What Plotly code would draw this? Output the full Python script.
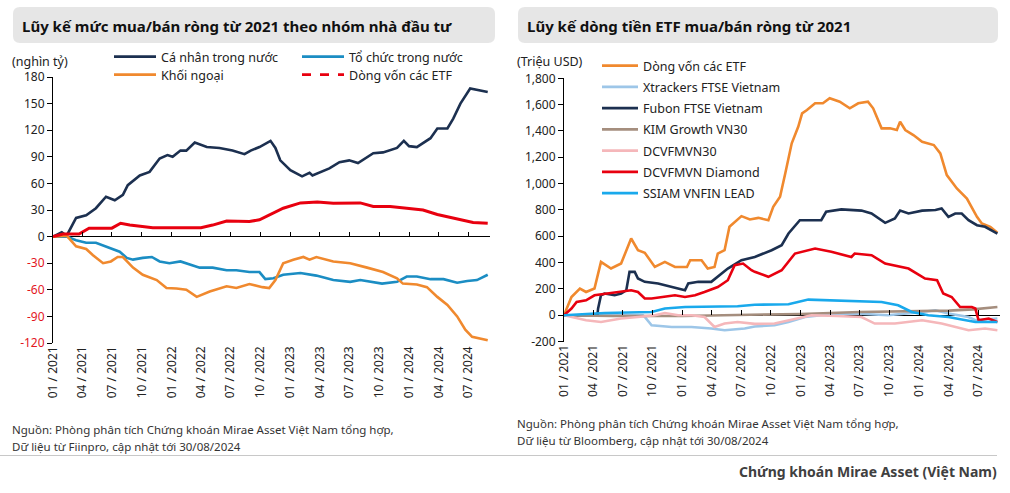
import plotly.graph_objects as go

# ---------------- Left chart data (nghìn tỷ VND) ----------------
ca_nhan_dates = ["2021-01-01", "2021-01-28", "2021-02-12", "2021-03-13", "2021-04-13", "2021-05-13",
                 "2021-06-13", "2021-07-10", "2021-08-04", "2021-08-19", "2021-09-25", "2021-10-25",
                 "2021-11-25", "2021-12-19", "2022-01-04", "2022-01-28", "2022-02-15", "2022-03-13",
                 "2022-04-19", "2022-05-28", "2022-07-07", "2022-08-13", "2022-09-01", "2022-09-28",
                 "2022-11-01", "2022-11-16", "2022-12-01", "2023-01-01", "2023-02-06", "2023-03-01",
                 "2023-03-10", "2023-05-01", "2023-06-01", "2023-07-01", "2023-07-28", "2023-08-19",
                 "2023-09-13", "2023-10-13", "2023-11-25", "2023-12-16", "2024-01-01", "2024-01-25",
                 "2024-03-07", "2024-03-28", "2024-04-28", "2024-05-16", "2024-06-07", "2024-07-07",
                 "2024-08-01", "2024-08-30"]
ca_nhan_vals = [0, 5, 1, 21, 24, 32, 45, 41, 47, 58, 69, 73, 88, 92, 90, 97, 97, 106, 101, 100, 97, 93,
                97, 101, 108, 100, 86, 75, 68, 72, 69, 77, 84, 86, 83, 88, 94, 95, 100, 108, 102, 101,
                111, 122, 122, 133, 150, 167, 165, 163]

to_chuc_dates = ["2021-01-01", "2021-02-12", "2021-03-13", "2021-04-13", "2021-05-13", "2021-06-13",
                 "2021-07-25", "2021-08-16", "2021-09-04", "2021-10-04", "2021-11-01", "2021-11-25",
                 "2021-12-25", "2022-01-28", "2022-02-28", "2022-03-28", "2022-05-07", "2022-06-19",
                 "2022-07-19", "2022-08-28", "2022-09-28", "2022-10-16", "2022-11-10", "2022-12-10",
                 "2023-02-01", "2023-03-22", "2023-05-13", "2023-07-04", "2023-08-04", "2023-10-10",
                 "2023-11-25", "2023-12-25", "2024-01-25", "2024-03-07", "2024-04-16", "2024-05-28",
                 "2024-06-28", "2024-07-28", "2024-08-30"]
to_chuc_vals = [0, 0, -4, -7, -7, -11, -17, -24, -26, -24, -23, -28, -30, -28, -32, -35, -35, -38, -38,
                -40, -40, -48, -47, -43, -41, -44, -49, -51, -49, -53, -51, -45, -45, -48, -48, -52,
                -50, -49, -43]

khoi_ngoai_dates = ["2021-01-01", "2021-02-12", "2021-03-13", "2021-04-13", "2021-05-04", "2021-06-04",
                    "2021-06-28", "2021-07-19", "2021-08-04", "2021-09-04", "2021-10-04", "2021-11-16",
                    "2021-12-16", "2022-01-16", "2022-02-15", "2022-03-19", "2022-04-28", "2022-06-19",
                    "2022-07-19", "2022-08-28", "2022-10-07", "2022-10-28", "2022-11-16", "2022-12-10",
                    "2023-01-10", "2023-02-10", "2023-03-01", "2023-03-22", "2023-05-13", "2023-07-04",
                    "2023-08-25", "2023-10-13", "2023-11-25", "2023-12-13", "2024-01-25", "2024-02-25",
                    "2024-03-28", "2024-04-28", "2024-05-28", "2024-06-22", "2024-07-13", "2024-08-07",
                    "2024-08-30"]
khoi_ngoai_vals = [0, 1, -11, -14, -21, -30, -28, -23, -23, -35, -43, -49, -58, -58.5, -60, -68, -62,
                   -56, -58, -53.5, -57, -58, -49, -30, -26, -23, -26, -23, -28, -30, -35, -40, -47,
                   -53, -54, -57, -68, -77, -90, -105, -113, -115, -117]

etf_vnd_dates = ["2021-01-01", "2021-02-01", "2021-03-22", "2021-04-22", "2021-07-01", "2021-07-28",
                 "2021-08-25", "2021-09-25", "2021-11-04", "2022-04-01", "2022-05-07", "2022-06-19",
                 "2022-08-28", "2022-09-28", "2022-10-28", "2022-12-10", "2023-02-01", "2023-03-25",
                 "2023-05-13", "2023-08-04", "2023-09-13", "2023-11-04", "2023-12-25", "2024-02-13",
                 "2024-03-28", "2024-05-07", "2024-06-16", "2024-07-16", "2024-08-30"]
etf_vnd_vals = [0, 3, 3, 9.5, 9.5, 15, 13, 12, 10, 10, 13, 17.5, 17, 19, 24, 32, 38, 39, 37.5, 38, 34,
                34, 32, 30, 25, 22, 18.5, 16, 15]

left_names = ["Cá nhân trong nước", "Tổ chức trong nước", "Khối ngoại", "Dòng vốn các ETF"]
left_ticks = [-120, -90, -60, -30, 0, 30, 60, 90, 120, 150, 180]

# ---------------- Right chart data (Triệu USD) ----------------
etf_usd_dates = ["2021-01-01", "2021-01-24", "2021-02-19", "2021-03-10", "2021-04-05", "2021-04-25",
                 "2021-05-26", "2021-06-26", "2021-07-27", "2021-08-17", "2021-09-07", "2021-10-08",
                 "2021-11-08", "2021-12-09", "2022-01-15", "2022-01-25", "2022-03-01", "2022-03-20",
                 "2022-04-10", "2022-04-20", "2022-05-11", "2022-05-26", "2022-07-02", "2022-07-28",
                 "2022-08-23", "2022-09-23", "2022-10-08", "2022-10-29", "2022-11-14", "2022-12-04",
                 "2022-12-24", "2023-01-05", "2023-01-20", "2023-02-14", "2023-03-10", "2023-03-31",
                 "2023-05-01", "2023-06-01", "2023-06-27", "2023-07-27", "2023-08-12", "2023-09-07",
                 "2023-10-03", "2023-10-24", "2023-11-03", "2023-11-19", "2023-12-14", "2024-01-10",
                 "2024-02-15", "2024-03-06", "2024-03-26", "2024-04-26", "2024-05-27", "2024-06-27",
                 "2024-07-12", "2024-08-07", "2024-08-29"]
etf_usd_vals = [0, 139, 203, 177, 203, 405, 355, 393, 583, 494, 475, 367, 405, 367, 367, 418, 418, 355,
                367, 469, 494, 672, 753, 728, 740, 722, 824, 900, 1077, 1306, 1432, 1534, 1559, 1610,
                1610, 1648, 1622, 1572, 1610, 1622, 1572, 1420, 1420, 1407, 1470, 1407, 1369, 1318,
                1293, 1230, 1065, 963, 887, 748, 697, 672, 626]

xtrackers_dates = ["2021-01-01", "2021-09-01", "2021-09-07", "2021-09-28", "2021-11-29", "2022-01-29",
                   "2022-03-31", "2022-05-11", "2022-07-12", "2022-08-12", "2022-10-12", "2022-11-24",
                   "2023-01-14", "2023-03-05", "2023-06-16", "2023-09-27", "2024-01-10", "2024-02-20",
                   "2024-03-31", "2024-06-01", "2024-06-22", "2024-08-29"]
xtrackers_vals = [0, 0, -13, -76, -89, -89, -101, -114, -101, -85, -76, -51, -13, 0, 13, 0, 25, 38, 13,
                  -13, -38, -25]

fubon_dates = ["2021-01-01", "2021-04-14", "2021-04-16", "2021-04-25", "2021-05-06", "2021-06-06",
               "2021-06-26", "2021-07-12", "2021-07-22", "2021-08-07", "2021-08-17", "2021-09-07",
               "2021-10-18", "2021-11-29", "2022-01-09", "2022-01-19", "2022-02-19", "2022-03-31",
               "2022-04-20", "2022-05-21", "2022-07-02", "2022-08-12", "2022-10-03", "2022-11-03",
               "2022-11-24", "2022-12-29", "2023-03-05", "2023-03-20", "2023-05-06", "2023-07-07",
               "2023-08-07", "2023-09-18", "2023-10-18", "2023-11-03", "2023-11-29", "2024-01-10",
               "2024-02-20", "2024-03-10", "2024-03-31", "2024-04-21", "2024-05-11", "2024-06-01",
               "2024-06-27", "2024-07-22", "2024-08-29"]
fubon_vals = [0, 0, 50, 152, 165, 152, 165, 190, 330, 330, 279, 254, 241, 216, 190, 241, 254, 254, 292,
              355, 418, 443, 494, 532, 621, 722, 722, 786, 804, 795, 773, 702, 735, 795, 773, 795, 800,
              811, 748, 773, 773, 722, 684, 672, 621]

kim_dates = ["2021-01-01", "2021-06-01", "2022-01-01", "2022-07-01", "2023-01-01", "2023-07-01",
             "2024-01-01", "2024-04-01", "2024-06-15", "2024-08-29"]
kim_vals = [0, -5, -5, 0, 10, 25, 30, 35, 45, 63]

dcvfmvn30_dates = ["2021-01-01", "2021-03-10", "2021-04-25", "2021-05-26", "2021-06-26", "2021-08-17",
                   "2021-10-08", "2021-11-08", "2021-12-19", "2022-01-29", "2022-03-10", "2022-04-10",
                   "2022-05-11", "2022-06-20", "2022-08-12", "2022-10-12", "2022-12-14", "2023-02-03",
                   "2023-04-23", "2023-07-07", "2023-08-17", "2023-10-18", "2024-01-10", "2024-03-10",
                   "2024-06-01", "2024-07-22", "2024-08-29"]
dcvfmvn30_vals = [0, -38, -51, -38, -25, -13, 0, 17, 0, 0, -13, -89, -63, -51, -65, -63, -25, 0, -5,
                  -13, -63, -63, -38, -63, -114, -101, -114]

diamond_dates = ["2021-01-01", "2021-01-24", "2021-02-09", "2021-03-10", "2021-04-05", "2021-05-16",
                 "2021-06-16", "2021-07-27", "2021-08-17", "2021-09-07", "2021-09-28", "2021-11-08",
                 "2021-12-09", "2022-01-09", "2022-02-09", "2022-03-10", "2022-04-20", "2022-05-21",
                 "2022-06-11", "2022-07-07", "2022-08-02", "2022-08-12", "2022-09-23", "2022-11-03",
                 "2022-12-14", "2023-02-14", "2023-04-05", "2023-06-06", "2023-06-16", "2023-08-07",
                 "2023-09-18", "2023-11-29", "2024-01-19", "2024-02-25", "2024-03-15", "2024-04-10",
                 "2024-05-06", "2024-06-11", "2024-06-22", "2024-07-02", "2024-08-02", "2024-08-29"]
diamond_vals = [0, 51, 101, 114, 152, 165, 177, 190, 177, 127, 127, 139, 152, 139, 152, 177, 215, 266,
                380, 393, 342, 330, 292, 342, 469, 507, 482, 443, 469, 456, 393, 355, 279, 266, 165,
                139, 63, 63, 51, -38, -25, -51]

ssiam_dates = ["2021-01-01", "2021-05-06", "2021-09-28", "2021-11-08", "2022-01-09", "2022-03-31",
               "2022-06-20", "2022-08-12", "2022-11-24", "2023-01-24", "2023-03-25", "2023-06-16",
               "2023-09-07", "2023-10-28", "2023-12-09", "2024-01-29", "2024-03-31", "2024-05-11",
               "2024-06-22", "2024-08-29"]
ssiam_vals = [0, 17, 25, 51, 63, 63, 68, 80, 84, 119, 114, 108, 101, 76, 25, 0, -13, -32, -51, -51]

right_names = ["Dòng vốn các ETF", "Xtrackers FTSE Vietnam", "Fubon FTSE Vietnam", "KIM Growth VN30",
               "DCVFMVN30", "DCVFMVN Diamond", "SSIAM VNFIN LEAD"]
right_ticks = [-200, 0, 200, 400, 600, 800, 1000, 1200, 1400, 1600, 1800]

# ---------------- Layout geometry helpers (pixel -> paper) ----------------
L_, R_, T_, B_ = 53, 1000, 77, 343
W_, H_ = R_ - L_, B_ - T_


def px(x):
    return (x - L_) / W_


def py(y):
    return (B_ - y) / H_


FONT = "Noto Sans"
TXT = "#222222"
X_RANGE = ["2021-01-01", "2024-09-06"]

fig = go.Figure()

# ---------------- Left traces ----------------
left_series = [
    (ca_nhan_dates, ca_nhan_vals, "#1C3050", "legend"),
    (to_chuc_dates, to_chuc_vals, "#1B8DC3", "legend"),
    (khoi_ngoai_dates, khoi_ngoai_vals, "#F0892E", "legend2"),
]
for (d, v, c, lg), name in zip(left_series, left_names[:3]):
    fig.add_trace(go.Scatter(x=d, y=v, name=name, mode="lines", line=dict(color=c, width=2.6),
                             xaxis="x", yaxis="y", legend=lg, hoverinfo="skip"))
fig.add_trace(go.Scatter(x=etf_vnd_dates, y=etf_vnd_vals, name=left_names[3], mode="lines",
                         line=dict(color="#E8000F", width=3), xaxis="x", yaxis="y",
                         showlegend=False, hoverinfo="skip"))
# legend entry for ETF (dashed in legend)
fig.add_trace(go.Scatter(x=[None], y=[None], name=left_names[3], mode="lines",
                         line=dict(color="#E8000F", width=2.6, dash="dash"), xaxis="x", yaxis="y",
                         legend="legend2", hoverinfo="skip"))

# ---------------- Right traces ----------------
right_series = [
    (etf_usd_dates, etf_usd_vals, "#F0892E"),
    (xtrackers_dates, xtrackers_vals, "#9DC6E8"),
    (fubon_dates, fubon_vals, "#1C3050"),
    (kim_dates, kim_vals, "#A58E7E"),
    (dcvfmvn30_dates, dcvfmvn30_vals, "#F5B7BA"),
    (diamond_dates, diamond_vals, "#E8000F"),
    (ssiam_dates, ssiam_vals, "#19A9EC"),
]
for i, ((d, v, c), name) in enumerate(zip(right_series, right_names)):
    fig.add_trace(go.Scatter(x=d, y=v, name=name, mode="lines", line=dict(color=c, width=2.6),
                             xaxis="x2", yaxis="y2", legend="legend3", legendgroup="g%d" % i,
                             hoverinfo="skip"))

# dummy traces to register zero-line tick axes
fig.add_trace(go.Scatter(x=[None], y=[None], xaxis="x3", yaxis="y", showlegend=False, hoverinfo="skip"))
fig.add_trace(go.Scatter(x=[None], y=[None], xaxis="x4", yaxis="y2", showlegend=False, hoverinfo="skip"))

# ---------------- Axes ----------------
left_ticktext = ['<span style="color:#E3161E">%d</span>' % t if t < 0 else str(t) for t in left_ticks]
right_ticktext = ["{:,}".format(t) for t in right_ticks]

xdom_l = [0, px(490)]
xdom_r = [px(564), 1]
ydom_r = [py(341.6), py(78.3)]

xcommon = dict(type="date", range=X_RANGE, tick0="2021-01-01", dtick="M3", tickformat="%m / %Y",
               tickangle=-90, showgrid=False, showline=False, zeroline=False, ticks="",
               tickfont=dict(family=FONT, size=12, color=TXT))
ycommon = dict(showgrid=False, showline=True, linecolor="black", linewidth=1, ticks="outside",
               ticklen=5, tickcolor="black", zeroline=True, zerolinecolor="black", zerolinewidth=1,
               tickfont=dict(family=FONT, size=12, color=TXT))
tickaxis = dict(type="date", range=X_RANGE, tick0="2021-01-01", dtick="M3", showgrid=False,
                showline=False, zeroline=False, showticklabels=False, ticks="inside", ticklen=5,
                tickcolor="black", anchor="free", side="bottom")

fig.update_layout(
    xaxis=dict(domain=xdom_l, anchor="y", **xcommon),
    yaxis=dict(domain=[0, 1], anchor="x", range=[-120, 180], tickvals=left_ticks,
               ticktext=left_ticktext, **ycommon),
    xaxis2=dict(domain=xdom_r, anchor="y2", **xcommon),
    yaxis2=dict(domain=ydom_r, anchor="x2", range=[-200, 1800], tickvals=right_ticks,
                ticktext=right_ticktext, **ycommon),
    xaxis3=dict(overlaying="x", position=120 / 300, **tickaxis),
    xaxis4=dict(overlaying="x2", position=ydom_r[0] + (ydom_r[1] - ydom_r[0]) * 200 / 2000, **tickaxis),
)

# ---------------- Legends ----------------
leg_font = dict(family=FONT, size=12.5, color=TXT)
fig.update_layout(
    legend=dict(orientation="h", x=px(109), y=py(57), xanchor="left", yanchor="middle",
                entrywidth=131, entrywidthmode="pixels", font=leg_font, bgcolor="rgba(0,0,0,0)",
                itemwidth=42, traceorder="normal"),
    legend2=dict(orientation="h", x=px(109), y=py(75), xanchor="left", yanchor="middle",
                 entrywidth=131, entrywidthmode="pixels", font=leg_font, bgcolor="rgba(0,0,0,0)",
                 itemwidth=42, traceorder="normal"),
    legend3=dict(orientation="v", x=px(597), y=py(51), xanchor="left", yanchor="top",
                 font=leg_font, bgcolor="rgba(0,0,0,0)", tracegroupgap=2, traceorder="grouped",
                 itemwidth=36),
)


# ---------------- Title boxes, texts, separators ----------------
def rounded_rect(x0, y0, x1, y1, r):
    pts = [
        ("M", x0 + r, y0), ("L", x1 - r, y0), ("Q", x1, y0, x1, y0 + r), ("L", x1, y1 - r),
        ("Q", x1, y1, x1 - r, y1), ("L", x0 + r, y1), ("Q", x0, y1, x0, y1 - r), ("L", x0, y0 + r),
        ("Q", x0, y0, x0 + r, y0),
    ]
    s = ""
    for p in pts:
        if p[0] == "Q":
            s += "Q%.5f,%.5f %.5f,%.5f " % (px(p[1]), py(p[2]), px(p[3]), py(p[4]))
        else:
            s += "%s%.5f,%.5f " % (p[0], px(p[1]), py(p[2]))
    return s + "Z"


shapes = [
    dict(type="path", xref="paper", yref="paper", path=rounded_rect(13, 7, 495, 43, 7),
         fillcolor="#E6E6E6", line=dict(width=0), layer="below"),
    dict(type="path", xref="paper", yref="paper", path=rounded_rect(518, 7, 998, 43, 7),
         fillcolor="#E6E6E6", line=dict(width=0), layer="below"),
    dict(type="line", xref="paper", yref="paper", x0=px(0), x1=px(997), y0=py(455.5), y1=py(455.5),
         line=dict(color="#C8C8C8", width=1.2)),
]


def ann(text, x, y, size, bold=False, color=TXT, xanchor="left"):
    t = "<b>%s</b>" % text if bold else text
    return dict(text=t, x=px(x), y=py(y), xref="paper", yref="paper", xanchor=xanchor,
                yanchor="middle", showarrow=False, font=dict(family=FONT, size=size, color=color))


annotations = [
    ann("Lũy kế mức mua/bán ròng từ 2021 theo nhóm nhà đầu tư", 20, 26, 15, bold=True, color="#111111"),
    ann("Lũy kế dòng tiền ETF mua/bán ròng từ 2021", 525, 26, 15, bold=True, color="#111111"),
    ann("(nghìn tỷ)", 10, 62, 12.5),
    ann("(Triệu USD)", 515, 62, 12.5),
    ann("Nguồn: Phòng phân tích Chứng khoán Mirae Asset Việt Nam tổng hợp,", 10, 429, 11.5, color="#333333"),
    ann("Dữ liệu từ Fiinpro, cập nhật tới 30/08/2024", 10, 446, 11.5, color="#333333"),
    ann("Nguồn: Phòng phân tích Chứng khoán Mirae Asset Việt Nam tổng hợp,", 515, 423, 11.5, color="#333333"),
    ann("Dữ liệu từ Bloomberg, cập nhật tới 30/08/2024", 515, 440, 11.5, color="#333333"),
    ann("Chứng khoán Mirae Asset (Việt Nam)", 999, 471, 14, bold=True, color="#404040", xanchor="right"),
]

fig.update_layout(
    width=1010, height=493, autosize=False,
    margin=dict(l=L_, r=1010 - R_, t=T_, b=493 - B_, pad=0),
    paper_bgcolor="white", plot_bgcolor="white",
    shapes=shapes, annotations=annotations,
    font=dict(family=FONT, color=TXT),
)

fig.write_html("out.html", config={"displayModeBar": False},
               post_script="document.body.style.margin='0';document.body.style.overflow='hidden';")
